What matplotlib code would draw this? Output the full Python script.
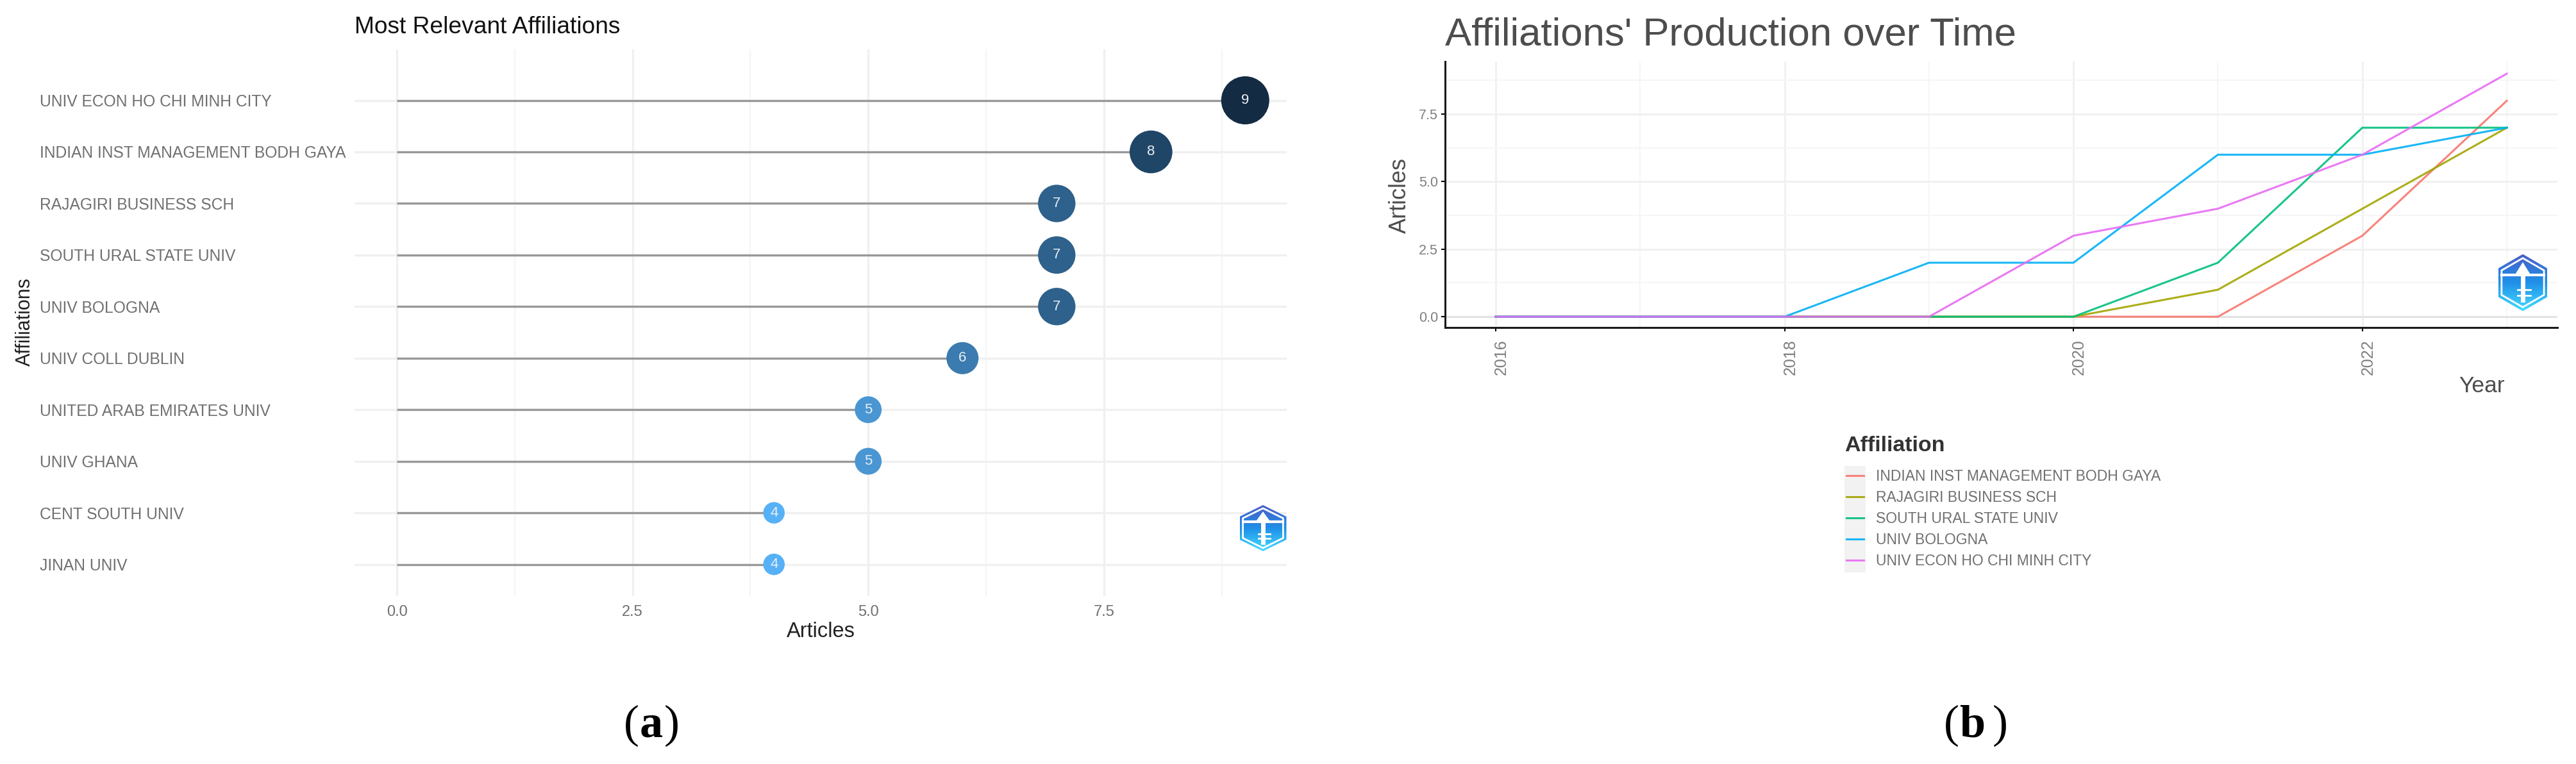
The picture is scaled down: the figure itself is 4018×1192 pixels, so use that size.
import numpy as np
import matplotlib
matplotlib.use("Agg")
import matplotlib.pyplot as plt
from matplotlib.colors import LinearSegmentedColormap
from matplotlib.patches import Polygon
from matplotlib.transforms import ScaledTranslation

W, H = 4018, 1192

# left panel data
affiliations = ["JINAN UNIV", "CENT SOUTH UNIV", "UNIV GHANA", "UNITED ARAB EMIRATES UNIV",
                "UNIV COLL DUBLIN", "UNIV BOLOGNA", "SOUTH URAL STATE UNIV",
                "RAJAGIRI BUSINESS SCH", "INDIAN INST MANAGEMENT BODH GAYA",
                "UNIV ECON HO CHI MINH CITY"]
articles = [4, 4, 5, 5, 6, 7, 7, 7, 8, 9]

# right panel data
years = [2016, 2017, 2018, 2019, 2020, 2021, 2022, 2023]
indian = [0, 0, 0, 0, 0, 0, 3, 8]
rajagiri = [0, 0, 0, 0, 0, 1, 4, 7]
south_ural = [0, 0, 0, 0, 0, 2, 7, 7]
bologna = [0, 0, 0, 2, 2, 6, 6, 7]
econ = [0, 0, 0, 0, 3, 4, 6, 9]
series_names = ["INDIAN INST MANAGEMENT BODH GAYA", "RAJAGIRI BUSINESS SCH",
                "SOUTH URAL STATE UNIV", "UNIV BOLOGNA", "UNIV ECON HO CHI MINH CITY"]
series_colors = ["#F8766D", "#A3A500", "#00BF7D", "#00B0F6", "#E76BF3"]

plt.rcParams['font.family'] = ['Liberation Sans', 'DejaVu Sans']


def px_axes(fig, left, top, right, bottom):
    return fig.add_axes([left / W, 1 - bottom / H, (right - left) / W, (bottom - top) / H])


def px_text(fig, x, y, s, **kw):
    return fig.text(x / W, 1 - y / H, s, **kw)


def draw_logo(fig, cx, cy, w, h):
    ax = px_axes(fig, cx - w / 2, cy - h / 2, cx + w / 2, cy + h / 2)
    ax.set_xlim(-1, 1)
    ax.set_ylim(-1, 1)
    ax.axis('off')
    cmap = LinearSegmentedColormap.from_list('logo', ['#4a5fc8', '#1f8fe8', '#45dcff'])
    grad = np.linspace(0, 1, 64).reshape(-1, 1)
    hex_pts = [(0, 1), (1, 0.5), (1, -0.5), (0, -1), (-1, -0.5), (-1, 0.5)]
    im = ax.imshow(grad, extent=(-1, 1, -1, 1), aspect='auto', cmap=cmap, zorder=1)
    outer = Polygon(hex_pts, closed=True, transform=ax.transData, fc='none', ec='none')
    ax.add_patch(outer)
    im.set_clip_path(outer)
    inner = [(x * 0.86, y * 0.86) for x, y in hex_pts]
    ax.add_patch(Polygon(inner, closed=True, fc='none', ec='white', lw=2, zorder=2))
    ax.plot([-0.86, 0.86], [0.28, 0.28], color='white', lw=3, zorder=3)
    ax.add_patch(Polygon([(-0.3, 0.3), (0, 0.72), (0.3, 0.3)], closed=True, fc='white', ec='none', zorder=3))
    ax.plot([0, 0], [-0.6, 0.2], color='white', lw=5, zorder=3)
    ax.plot([-0.2, 0.3], [-0.25, -0.25], color='white', lw=2, zorder=3)
    ax.plot([-0.2, 0.3], [-0.45, -0.45], color='white', lw=2, zorder=3)


fig = plt.figure(figsize=(W / 100, H / 100), dpi=100)

# (a) lollipop
ax1 = px_axes(fig, 553, 76.5, 2007, 930)
y_pos = np.arange(len(affiliations))
ax1.set_xlim(-0.45, 9.44)
ax1.set_ylim(-0.615, 9.995)
for s in ax1.spines.values():
    s.set_visible(False)
ax1.set_axisbelow(True)
ax1.set_xticks([0, 2.5, 5, 7.5])
ax1.set_xticklabels(["0.0", "2.5", "5.0", "7.5"])
ax1.set_xticks([1.25, 3.75, 6.25, 8.75], minor=True)
ax1.set_yticks(y_pos)
ax1.set_yticklabels(affiliations, ha='left')
ax1.grid(True, which='major', color='#f0f0f0', lw=2.4)
ax1.grid(True, which='minor', axis='x', color='#f5f5f5', lw=1.6)
ax1.tick_params(which='both', length=0)
ax1.tick_params(axis='y', labelsize=17.7, labelcolor='#707070', pad=353.5)
ax1.tick_params(axis='x', labelsize=17, labelcolor='#707070', pad=10)
ax1.hlines(y_pos, 0, articles, color='#999999', lw=2.4, zorder=2)
cmap_blue = LinearSegmentedColormap.from_list('ggblue', ['#132B43', '#56B1F7'])
diam_pt = (33.5 + (np.array(articles) - 4) * 8.3) * 0.72
ax1.scatter(articles, y_pos, s=diam_pt ** 2, c=articles, cmap=cmap_blue.reversed(), vmin=4, vmax=9,
            linewidths=0, zorder=3)
for a, yy in zip(articles, y_pos):
    ax1.text(a, yy, str(a), color='#e8eef4', fontsize=16, ha='center', va='center', zorder=4)
px_text(fig, 553, 42, "Most Relevant Affiliations", fontsize=26.7, color='#111111', va='center')
px_text(fig, 1280, 985, "Articles", fontsize=23.5, color='#222222', ha='center', va='center')
px_text(fig, 39, 502, "Affiliations", fontsize=22, color='#222222', rotation=90, ha='center', va='center')

# (b) lines
ax2 = px_axes(fig, 2254, 96, 3989, 511)
ax2.set_xlim(2015.65, 2023.35)
ax2.set_ylim(-0.40, 9.45)
for name in ['top', 'right']:
    ax2.spines[name].set_visible(False)
for name in ['left', 'bottom']:
    ax2.spines[name].set_linewidth(2.2)
    ax2.spines[name].set_color('#1a1a1a')
ax2.set_axisbelow(True)
ax2.set_xticks([2016, 2018, 2020, 2022])
ax2.set_xticks([2017, 2019, 2021, 2023], minor=True)
ax2.set_yticks([0, 2.5, 5, 7.5])
ax2.set_yticklabels(["0.0", "2.5", "5.0", "7.5"])
ax2.set_yticks([1.25, 3.75, 6.25, 8.75], minor=True)
ax2.grid(True, which='major', color='#f0f0f0', lw=2)
ax2.grid(True, which='minor', color='#f6f6f6', lw=1.6)
ax2.axhline(0, color='#e2e2e2', lw=2.2, zorder=1)
ax2.tick_params(which='minor', length=0)
ax2.tick_params(axis='y', which='major', labelsize=15.5, labelcolor='#7f7f7f', length=4, width=1.5, pad=4)
ax2.tick_params(axis='x', which='major', labelsize=18, labelcolor='#7f7f7f', length=4, width=1.5, pad=9,
                labelrotation=90)
# the year labels sit a little right of their ticks in the original
shift = ScaledTranslation(9 / 100, 0, fig.dpi_scale_trans)
for lab in ax2.get_xticklabels():
    lab.set_transform(lab.get_transform() + shift)
for vals, name, col in zip([indian, rajagiri, south_ural, bologna, econ], series_names, series_colors):
    ax2.plot(years, vals, color=col, lw=2.2, alpha=0.9, label=name, solid_joinstyle='miter')
px_text(fig, 2254, 55, "Affiliations' Production over Time", fontsize=44.4, color='#4d4d4d', va='center')
px_text(fig, 3907, 602, "Year", fontsize=25.5, color='#4d4d4d', ha='right', va='center')
px_text(fig, 2183, 305, "Articles", fontsize=26, color='#4d4d4d', rotation=90, ha='center', va='center')

# legend by hand so the rows land where they do in the original
px_text(fig, 2877, 696, "Affiliation", fontsize=24.5, fontweight='bold', color='#333333', va='center')
handles, labels = ax2.get_legend_handles_labels()
leg = fig.legend(handles, labels, loc='upper left', bbox_to_anchor=(2880 / W, 1 - 732 / H), frameon=False,
                 fontsize=16.5, labelcolor='#707070', handlelength=1.17, handletextpad=0.83, labelspacing=0.44,
                 borderpad=0, borderaxespad=0)
key_bg = fig.add_artist(plt.Rectangle((2877 / W, 1 - 893 / H), 33 / W, 166 / H, transform=fig.transFigure,
                                      fc='#f2f2f2', ec='none', zorder=0))

# panel letters
for x, paren1, letter, x_letter, paren2, x2 in [(973, "(", "a", 998, ")", 1036), (3032, "(", "b", 3056, ")", 3108)]:
    px_text(fig, x, 1150, paren1, family='Liberation Serif', fontsize=52, color='black', va='baseline')
    px_text(fig, x_letter, 1150, letter, family='Liberation Serif', fontsize=52, fontweight='bold', color='black', va='baseline')
    px_text(fig, x2, 1150, paren2, family='Liberation Serif', fontsize=52, color='black', va='baseline')

draw_logo(fig, 1970, 824, 73, 72)
draw_logo(fig, 3935, 441, 77, 89)

fig.savefig("out.png", dpi=100)
